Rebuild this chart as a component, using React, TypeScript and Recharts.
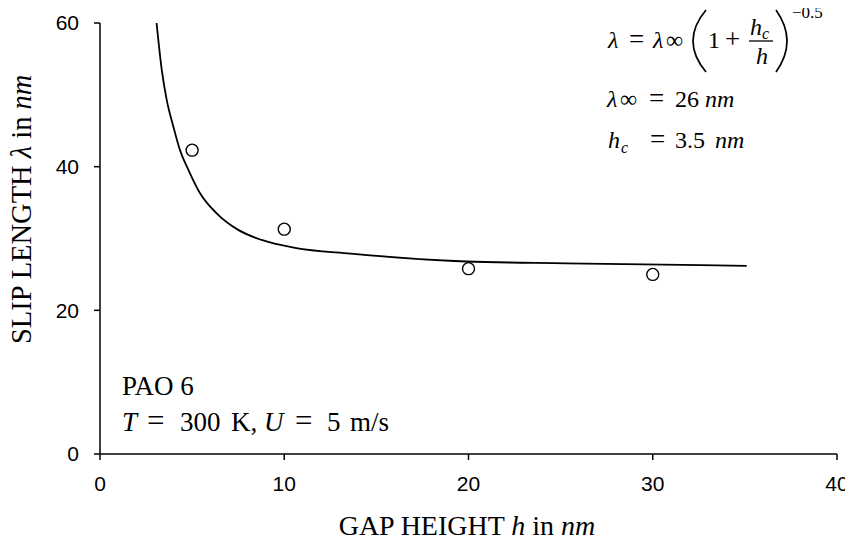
import React from "react"
import { ComposedChart, Line, Scatter, XAxis, YAxis } from "recharts"

// fitted curve (gap height h, slip length)
const curveH = [3.07, 3.35, 3.62, 3.98, 4.34, 4.79, 5.43, 6.33, 7.5, 8.77, 10.58, 13.6, 19.9, 25.3, 35.1]
const curveLambda = [60, 53.5, 49.3, 45.6, 42.3, 39.6, 36.3, 33.5, 31.2, 29.8, 28.7, 27.9, 26.8, 26.55, 26.2]

// MD results
const pointH = [5, 10, 20, 30]
const pointLambda = [42.3, 31.3, 25.8, 25.0]

const xTicks = [0, 10, 20, 30, 40]
const yTicks = [0, 20, 40, 60]

const curve = curveH.map((h, i) => ({ h, lambda: curveLambda[i] }))
const points = pointH.map((h, i) => ({ h, lambda: pointLambda[i] }))

const serif = "'Liberation Serif', 'Times New Roman', serif"
const sans = "'Liberation Sans', Arial, sans-serif"

const Ring = (props: any) => (
  <circle cx={props.cx} cy={props.cy} r={6} fill="#fff" stroke="#000" strokeWidth={1.4} />
)

// text layer, in page pixels
function Overlay() {
  return (
    <svg
      width={853}
      height={544}
      style={{ position: "absolute", left: -8, top: -8, pointerEvents: "none", overflow: "visible" }}
      fontFamily={serif}
      fill="#000"
    >
      {/* axis titles */}
      <text fontSize={28.5} transform="translate(31,344) rotate(-90)">
        SLIP LENGTH <tspan fontStyle="italic">λ</tspan> in <tspan fontStyle="italic">nm</tspan>
      </text>
      <text x={467} y={535} fontSize={28} textAnchor="middle">
        GAP HEIGHT <tspan fontStyle="italic">h</tspan> in <tspan fontStyle="italic">nm</tspan>
      </text>

      {/* conditions */}
      <text x={122} y={395} fontSize={27}>PAO 6</text>
      <g fontSize={27}>
        <text x={122} y={431} fontStyle="italic">T</text>
        <text x={147} y={431} fontSize={31}>=</text>
        <text x={180} y={431}>300</text>
        <text x={231} y={431}>K,</text>
        <text x={264} y={431} fontStyle="italic">U</text>
        <text x={295} y={431} fontSize={31}>=</text>
        <text x={327} y={431}>5</text>
        <text x={350} y={431}>m/s</text>
      </g>

      {/* fit formula */}
      <g fontSize={24}>
        <text x={608} y={48} fontStyle="italic">λ</text>
        <text x={629} y={48} fontSize={27}>=</text>
        <text x={653} y={48} fontStyle="italic">λ</text>
        <text x={666} y={48}>∞</text>
        <path d="M706 10 Q680 41 706 72" fill="none" stroke="#000" strokeWidth={1.7} />
        <text x={708} y={48}>1</text>
        <text x={725} y={48} fontSize={27}>+</text>
        <text x={750} y={35} fontStyle="italic">h</text>
        <text x={762} y={39} fontSize={16} fontStyle="italic">c</text>
        <line x1={749} x2={773} y1={41} y2={41} stroke="#000" strokeWidth={1.3} />
        <text x={756} y={64} fontStyle="italic">h</text>
        <path d="M776 10 Q798 41 776 72" fill="none" stroke="#000" strokeWidth={1.7} />
        <text x={792} y={18} fontSize={17}>−0.5</text>

        <text x={607} y={107} fontStyle="italic">λ</text>
        <text x={620} y={107}>∞</text>
        <text x={649} y={107} fontSize={27}>=</text>
        <text x={675} y={107}>26</text>
        <text x={705} y={107} fontStyle="italic">nm</text>

        <text x={608} y={148} fontStyle="italic">h</text>
        <text x={621} y={153} fontSize={16} fontStyle="italic">c</text>
        <text x={650} y={148} fontSize={27}>=</text>
        <text x={675} y={148}>3.5</text>
        <text x={715} y={148} fontStyle="italic">nm</text>
      </g>
    </svg>
  )
}

export default function App() {
  return (
    <div style={{ position: "relative", width: 845, height: 536, background: "#fff" }}>
      <ComposedChart width={845} height={536} margin={{ top: 15, right: 16, left: 32, bottom: 50 }}>
        <XAxis
          dataKey="h"
          type="number"
          domain={[0, 40]}
          ticks={xTicks}
          allowDataOverflow
          height={40}
          stroke="#000"
          strokeWidth={1.5}
          tickSize={6}
          tickMargin={16}
          tick={{ fill: "#000", fontSize: 21, fontFamily: sans }}
        />
        <YAxis
          dataKey="lambda"
          type="number"
          domain={[0, 60]}
          ticks={yTicks}
          allowDataOverflow
          width={60}
          stroke="#000"
          strokeWidth={1.5}
          tickSize={6}
          tickMargin={15}
          tick={{ fill: "#000", fontSize: 21, fontFamily: sans }}
        />
        <Line
          data={curve}
          dataKey="lambda"
          type="monotone"
          stroke="#000"
          strokeWidth={1.8}
          dot={false}
          isAnimationActive={false}
        />
        <Scatter data={points} dataKey="lambda" shape={<Ring />} isAnimationActive={false} />
      </ComposedChart>
      <Overlay />
    </div>
  )
}
